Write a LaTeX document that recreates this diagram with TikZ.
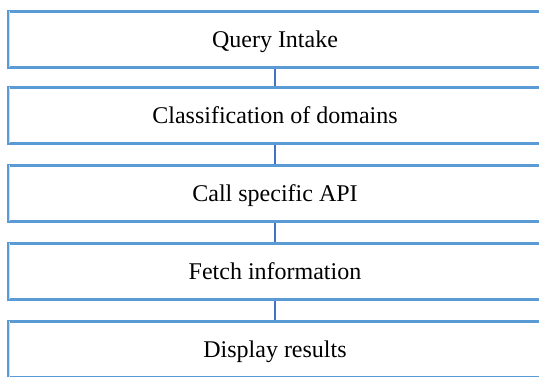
\documentclass[tikz,border=0pt]{standalone}
\usepackage{fontspec}
\setmainfont{Liberation Serif}
\definecolor{boxedge}{HTML}{5B9BD5}
\definecolor{boxinner}{HTML}{C9DEF1}
\definecolor{linkline}{HTML}{4472C4}
\begin{document}
\begin{tikzpicture}[x=1pt,y=-1pt,
  stage/.style={draw=boxedge, line width=2.7pt, fill=white, rectangle,
    minimum width=533pt, minimum height=56pt, inner sep=0pt,
    text height=17pt, text depth=1pt,
    font=\fontsize{24}{28}\selectfont},
  link/.style={draw=linkline, line width=2.7pt},
  innerline/.style={draw=boxinner, line width=1.6pt}]
\useasboundingbox (0,0) rectangle (539,376);
\node[stage] (s1) at (275,39.3) {Query Intake};
\node[stage] (s2) at (275,115.3) {Classification of domains};
\node[stage] (s3) at (275,193.3) {Call specific API};
\node[stage] (s4) at (275,271.3) {Fetch information};
\node[stage] (s5) at (275,349.3) {Display results};
% pale inner strip along each box's left side
\foreach \n in {s1,s2,s3,s4,s5}{
  \draw[innerline] ([xshift=2.2pt,yshift=-1.4pt]\n.north west) -- ([xshift=2.2pt,yshift=1.4pt]\n.south west);
}
\draw[link] (s1.south) -- (s2.north);
\draw[link] (s2.south) -- (s3.north);
\draw[link] (s3.south) -- (s4.north);
\draw[link] (s4.south) -- (s5.north);
\end{tikzpicture}
\end{document}
